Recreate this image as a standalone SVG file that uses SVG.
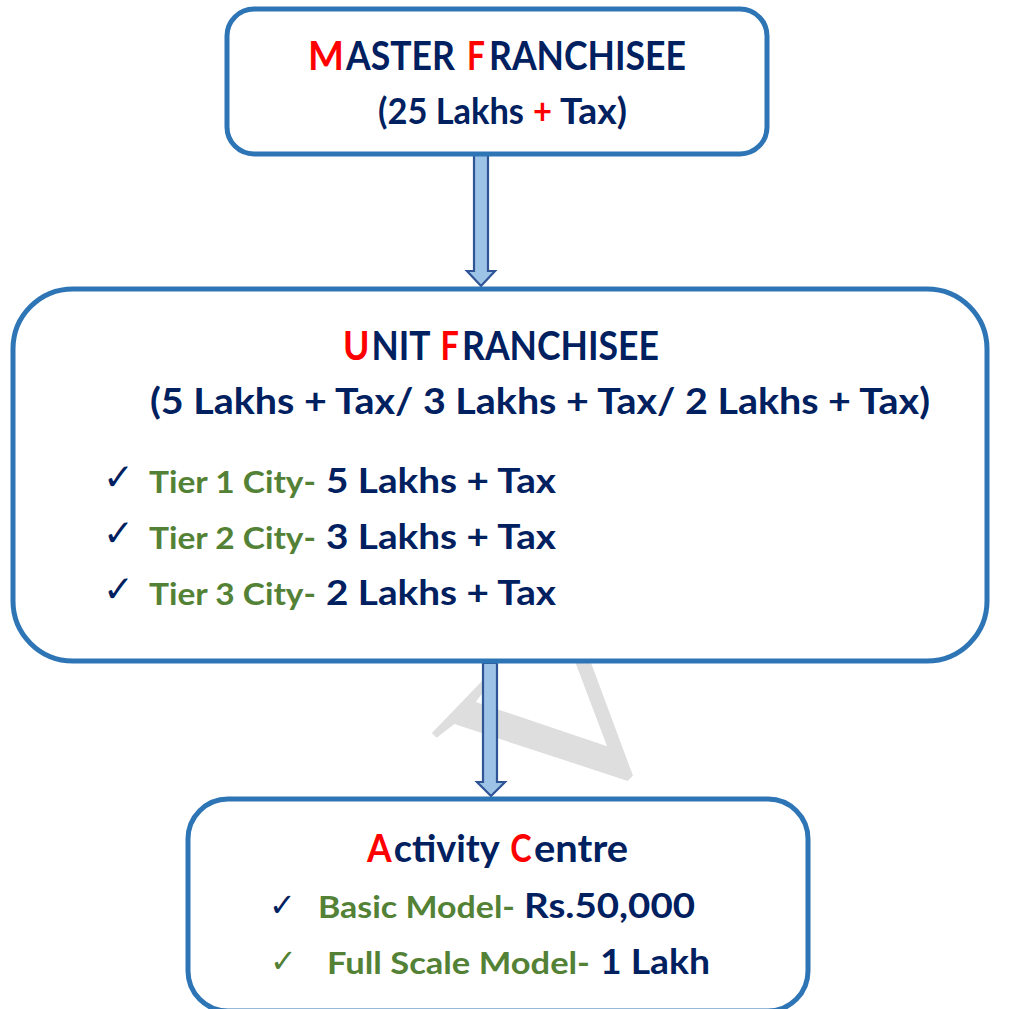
<svg xmlns="http://www.w3.org/2000/svg" width="1035" height="1009" viewBox="0 0 1035 1009">
<style>
.box{fill:#ffffff;stroke:#2e75b6;stroke-width:5}
.arrow{fill:#9dc3e6;stroke:#2f5597;stroke-width:2.2;stroke-linejoin:miter}
text{font-family:Lato,"Open Sans","Liberation Sans",sans-serif;font-weight:700}
.navy{fill:#002060}
.red{fill:#ff0000}
.green{fill:#538135}
.chk{font-family:"DejaVu Sans",sans-serif;font-weight:400;fill:#002060}
.chkg{font-family:"DejaVu Sans",sans-serif;font-weight:400;fill:#538135}
.wm{font-family:"Liberation Serif",serif;font-weight:400;fill:#dedede}
</style>
<rect width="1035" height="1009" fill="#ffffff"/>
<text class="wm" x="0" y="0" font-size="260" text-anchor="middle" transform="translate(627,776) rotate(-46) scale(1.15,1)">V</text>

<g id="connectors">
  <path class="arrow" d="M474,155 L488,155 L488,271 L495,271 L481,286 L467,271 L474,271 Z"/>
  <path class="arrow" d="M483,663 L497,663 L497,782 L505,782 L491,796 L477,782 L483,782 Z"/>
</g>

<g id="master">
  <rect class="box" x="227" y="9" width="540" height="145" rx="27"/>
  <text x="308" y="70" font-size="40" textLength="36" lengthAdjust="spacingAndGlyphs" class="red">M</text>
  <text x="346" y="70" font-size="40" textLength="109" lengthAdjust="spacingAndGlyphs" class="navy">ASTER</text>
  <text x="467" y="70" font-size="40" textLength="18" lengthAdjust="spacingAndGlyphs" class="red">F</text>
  <text x="489" y="70" font-size="40" textLength="197" lengthAdjust="spacingAndGlyphs" class="navy">RANCHISEE</text>
  <text x="378" y="124" font-size="36" textLength="146" lengthAdjust="spacingAndGlyphs" class="navy">(25 Lakhs</text>
  <text x="533" y="124" font-size="36" textLength="19" lengthAdjust="spacingAndGlyphs" class="red">+</text>
  <text x="560" y="124" font-size="36" textLength="67" lengthAdjust="spacingAndGlyphs" class="navy">Tax)</text>
</g>

<g id="unit">
  <rect class="box" x="13" y="289" width="974" height="372" rx="60"/>
  <text x="343" y="360" font-size="40" textLength="26.5" lengthAdjust="spacingAndGlyphs" class="red">U</text>
  <text x="371.5" y="360" font-size="40" textLength="59" lengthAdjust="spacingAndGlyphs" class="navy">NIT</text>
  <text x="440.4" y="360" font-size="40" textLength="18.4" lengthAdjust="spacingAndGlyphs" class="red">F</text>
  <text x="462" y="360" font-size="40" textLength="197" lengthAdjust="spacingAndGlyphs" class="navy">RANCHISEE</text>
  <text x="150" y="414" font-size="37" textLength="780" lengthAdjust="spacingAndGlyphs" class="navy">(5 Lakhs + Tax/ 3 Lakhs + Tax/ 2 Lakhs + Tax)</text>
  <text class="chk" x="103" y="490" font-size="37">✓</text>
  <text x="149" y="493" font-size="30" textLength="167" lengthAdjust="spacingAndGlyphs" class="green">Tier 1 City-</text>
  <text x="326" y="493" font-size="35" textLength="230" lengthAdjust="spacingAndGlyphs" class="navy">5 Lakhs + Tax</text>
  <text class="chk" x="103" y="546" font-size="37">✓</text>
  <text x="149" y="549" font-size="30" textLength="167" lengthAdjust="spacingAndGlyphs" class="green">Tier 2 City-</text>
  <text x="326" y="549" font-size="35" textLength="230" lengthAdjust="spacingAndGlyphs" class="navy">3 Lakhs + Tax</text>
  <text class="chk" x="103" y="602" font-size="37">✓</text>
  <text x="149" y="605" font-size="30" textLength="167" lengthAdjust="spacingAndGlyphs" class="green">Tier 3 City-</text>
  <text x="326" y="605" font-size="35" textLength="230" lengthAdjust="spacingAndGlyphs" class="navy">2 Lakhs + Tax</text>
</g>

<g id="activity">
  <rect class="box" x="188" y="799" width="620" height="212" rx="40"/>
  <text x="367" y="862" font-size="38" textLength="24.7" lengthAdjust="spacingAndGlyphs" class="red">A</text>
  <text x="393.7" y="862" font-size="38" textLength="106" lengthAdjust="spacingAndGlyphs" class="navy">ctivity</text>
  <text x="510.3" y="862" font-size="38" textLength="21.4" lengthAdjust="spacingAndGlyphs" class="red">C</text>
  <text x="534" y="862" font-size="38" textLength="94" lengthAdjust="spacingAndGlyphs" class="navy">entre</text>
  <text class="chk" x="269" y="916" font-size="32">✓</text>
  <text x="318" y="918" font-size="31" textLength="197" lengthAdjust="spacingAndGlyphs" class="green">Basic Model-</text>
  <text x="524" y="918" font-size="35" textLength="171" lengthAdjust="spacingAndGlyphs" class="navy">Rs.50,000</text>
  <text class="chkg" x="270" y="972" font-size="32">✓</text>
  <text x="327" y="974" font-size="31" textLength="263" lengthAdjust="spacingAndGlyphs" class="green">Full Scale Model-</text>
  <text x="600" y="974" font-size="35" textLength="110" lengthAdjust="spacingAndGlyphs" class="navy">1 Lakh</text>
</g>
</svg>
